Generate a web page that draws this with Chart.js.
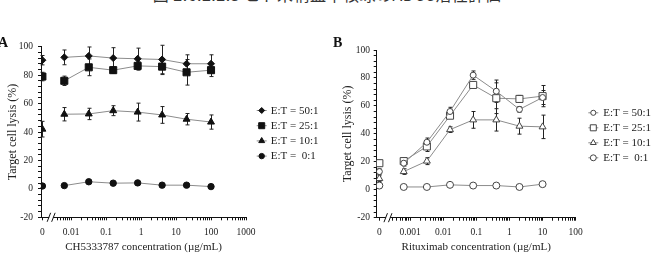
<!DOCTYPE html>
<html>
<head>
<meta charset="utf-8">
<script src="https://cdn.jsdelivr.net/npm/chart.js@4"></script>
<style>
  html, body { margin: 0; padding: 0; background: #fff; }
  #wrap { position: relative; width: 654px; height: 256px; overflow: hidden; }
  .box { position: absolute; top: 0; width: 327px; height: 256px; }
  #boxA { left: 0; }
  #boxB { left: 327px; }
  .tag { position: absolute; font: bold 14px "Liberation Serif", serif; color: #111; line-height: 14px; }
  #figTitle { position: absolute; left: 0; top: -14px; width: 654px; text-align: center; white-space: nowrap;
              font: 16px "Noto Sans CJK JP", sans-serif; letter-spacing: 0.5px; line-height: 16px; color: #333; }
</style>
</head>
<body>
<div id="wrap">
  <div id="figTitle">図 2.6.2.2.3 ヒト末梢血単核球のADCC活性評価</div>
  <div class="box" id="boxA"><canvas id="chartA" width="327" height="256"></canvas></div>
  <div class="box" id="boxB"><canvas id="chartB" width="327" height="256"></canvas></div>
  <div class="tag" style="left:-2px;top:36px">A</div>
  <div class="tag" style="left:333px;top:36px">B</div>
</div>
<script>
// --- Datos ---
const seriesLabels = ["E:T = 50:1", "E:T = 25:1", "E:T = 10:1", "E:T =  0:1"];
const yTicks = [-20, 0, 20, 40, 60, 80, 100];

// Panel A: CH5333787
const concA   = [0, 0.0064, 0.032, 0.16, 0.8, 4, 20, 100];
const lysisA50 = [90.5, 92.5, 93.5, 92, 91.5, 91, 88, 88];
const lysisA25 = [79, 76, 85.5, 83.5, 86.5, 86, 82, 83.5];
const lysisA10 = [42, 52.5, 52.7, 55, 54, 52, 49, 47];
const lysisA0  = [2, 2.3, 5, 4, 4.2, 2.6, 2.6, 1.6];
const errA50 = [3.3, 5.2, 6.3, 7.3, 7.5, 10, 6.3, 6.3];
const errA25 = [3, 3.3, 5.9, 2.3, 3, 5.6, 9, 4.5];
const errA10 = [5.5, 4.7, 4, 3.5, 6.3, 5.9, 4, 5];
const errA0  = [1, 1, 1, 1, 1, 1, 1, 1];
const xTickConcA   = [0, 0.01, 0.1, 1, 10, 100, 1000];
const xTickLabelsA = ["0", "0.01", "0.1", "1", "10", "100", "1000"];

// Panel B: Rituximab
const concB   = [0, 0.00064, 0.0032, 0.016, 0.08, 0.4, 2, 10];
const lysisB50 = [13, 19, 34, 56, 82, 70.5, 57.5, 66];
const lysisB25 = [19, 20.5, 31, 53, 75, 65.5, 65, 67];
const lysisB10 = [8, 13, 20.5, 43, 50, 50, 45.5, 45];
const lysisB0  = [3, 2, 2, 3.5, 3, 3, 2, 4];
const errB50 = [2, 2, 3, 3, 3, 8, 2, 5];
const errB25 = [2, 2, 3.6, 2, 2, 11, 2.5, 7.6];
const errB10 = [2, 2, 2.5, 2, 6, 8, 5.7, 8.4];
const errB0  = [0.5, 0.5, 0.5, 0.5, 0.5, 0.5, 0.5, 0.5];
const xTickConcB   = [0, 0.001, 0.01, 0.1, 1, 10, 100];
const xTickLabelsB = ["0", "0.001", "0.01", "0.1", "1", "10", "100"];

const serif = "'Liberation Serif', 'Times New Roman', serif";

// --- Utilidades ---
// concentración -> posición en el eje (log10, el 0 va a la izquierda del corte)
const toX = (c, zeroPos) => c === 0 ? zeroPos : Math.log10(c);

function toPoints(conc, vals, errs, zeroPos) {
  const pts = [];
  conc.forEach((c, i) => {
    pts.push({ x: toX(c, zeroPos), y: vals[i], e: errs[i] });
    if (c === 0) pts.push({ x: zeroPos, y: null, e: 0 });
  });
  return pts;
}

function buildXTicks(tickConc, labels, zeroPos, breakAt, max) {
  const ticks = tickConc.map((c, i) => ({ value: toX(c, zeroPos), label: labels[i] }));
  for (let d = Math.floor(breakAt); d < max; d++) {
    for (let k = 2; k <= 9; k++) {
      const v = Math.log10(k) + d;
      if (v > breakAt + 0.1 && v < max) ticks.push({ value: v, label: "" });
    }
  }
  return ticks.sort((a, b) => a.value - b.value);
}

function buildYTicks() {
  const t = [];
  for (let v = yTicks[0]; v <= yTicks[yTicks.length - 1]; v += 4) t.push(v);
  return t;
}

// --- Plugins ---
const errorBars = {
  id: "errorBars",
  beforeDatasetsDraw(chart) {
    const { ctx, scales: { x, y } } = chart;
    ctx.save();
    ctx.strokeStyle = "#222";
    ctx.lineWidth = 1;
    chart.data.datasets.forEach(ds => {
      ds.data.forEach(p => {
        if (p.y === null || !p.e) return;
        const px = Math.round(x.getPixelForValue(p.x)) + 0.5;
        const yt = y.getPixelForValue(p.y + p.e);
        const yb = y.getPixelForValue(p.y - p.e);
        ctx.beginPath();
        ctx.moveTo(px, yt); ctx.lineTo(px, yb);
        ctx.moveTo(px - 2, yt); ctx.lineTo(px + 2, yt);
        ctx.moveTo(px - 2, yb); ctx.lineTo(px + 2, yb);
        ctx.stroke();
      });
    });
    ctx.restore();
  }
};

const axisBreak = {
  id: "axisBreak",
  afterDraw(chart, args, opts) {
    const { ctx, chartArea } = chart;
    const x = chart.scales.x.getPixelForValue(opts.at);
    const y = chartArea.bottom;
    ctx.save();
    ctx.fillStyle = "#fff";
    ctx.fillRect(x - 2, y - 1.5, 4, 3);
    ctx.strokeStyle = "#111";
    ctx.lineWidth = 1;
    ctx.beginPath();
    ctx.moveTo(x - 4, y + 4.5); ctx.lineTo(x - 0.5, y - 4.5);
    ctx.moveTo(x + 0.5, y + 4.5); ctx.lineTo(x + 4, y - 4.5);
    ctx.stroke();
    ctx.restore();
  }
};

const sideLegend = {
  id: "sideLegend",
  afterDraw(chart, args, opts) {
    const ctx = chart.ctx;
    chart.data.datasets.forEach((ds, i) => {
      const y = opts.y + i * opts.gap;
      ctx.save();
      ctx.strokeStyle = ds.borderColor;
      ctx.lineWidth = 1;
      ctx.beginPath();
      ctx.moveTo(opts.x, y + 0.5); ctx.lineTo(opts.x + opts.len, y + 0.5);
      ctx.stroke();
      ctx.fillStyle = ds.pointBackgroundColor;
      ctx.strokeStyle = ds.pointBorderColor;
      ctx.lineWidth = ds.pointBorderWidth;
      Chart.helpers.drawPoint(ctx, {
        pointStyle: ds.pointStyle, radius: ds.pointRadius * 0.85, rotation: 0, borderWidth: ds.pointBorderWidth
      }, opts.x + opts.len / 2, y + 0.5);
      ctx.fillStyle = "#222";
      ctx.font = "11px " + serif;
      ctx.textBaseline = "middle";
      ctx.fillText(ds.label, opts.x + opts.len + opts.pad, y + 1);
      ctx.restore();
    });
  }
};

// --- Gráfico ---
function makeChart(id, cfg) {
  const xt = buildXTicks(cfg.tickConc, cfg.tickLabels, cfg.zeroPos, cfg.breakAt, cfg.xMax);
  const datasets = cfg.series.map((s, i) => ({
    label: seriesLabels[i],
    data: toPoints(cfg.conc, s.vals, s.errs, cfg.zeroPos),
    borderColor: cfg.lineColor,
    borderWidth: 1,
    pointStyle: s.style,
    pointRadius: s.r,
    pointBorderWidth: 1,
    pointBorderColor: cfg.markColor,
    pointBackgroundColor: cfg.fill,
    spanGaps: false,
    tension: 0
  }));

  return new Chart(document.getElementById(id), {
    type: "line",
    data: { datasets },
    plugins: [errorBars, axisBreak, sideLegend],
    options: {
      responsive: false,
      animation: false,
      layout: { padding: cfg.pad },
      plugins: {
        legend: { display: false },
        tooltip: { enabled: false },
        axisBreak: { at: cfg.breakAt },
        sideLegend: cfg.legend
      },
      scales: {
        x: {
          type: "linear",
          min: cfg.xMin,
          max: cfg.xMax,
          afterBuildTicks: sc => { sc.ticks = xt.map(t => ({ value: t.value })); },
          afterFit: sc => { sc.height = cfg.xHeight; },
          ticks: {
            autoSkip: false, maxRotation: 0, padding: 6, color: "#222",
            font: { family: serif, size: 9.5 },
            callback: v => { const t = xt.find(t => Math.abs(t.value - v) < 1e-9); return t ? t.label : ""; }
          },
          grid: { drawOnChartArea: false, tickLength: 3, color: "#111" },
          border: { color: "#111", width: 1 },
          title: {
            display: true, text: cfg.xTitle, color: "#222",
            font: { family: serif, size: 11 }, padding: { top: 0, bottom: 2.4 }
          }
        },
        y: {
          min: yTicks[0],
          max: yTicks[yTicks.length - 1],
          afterBuildTicks: sc => { sc.ticks = buildYTicks().map(v => ({ value: v })); },
          afterFit: sc => { sc.width = cfg.yWidth; },
          ticks: {
            autoSkip: false, padding: cfg.yPad, color: "#222",
            font: { family: serif, size: 9.5 },
            callback: v => yTicks.includes(v) ? String(v) : ""
          },
          grid: { drawOnChartArea: false, tickLength: 3, color: "#111" },
          border: { color: "#111", width: 1 },
          title: {
            display: true, text: "Target cell lysis (%)", color: "#222",
            font: { family: serif, size: 12 }, padding: { top: cfg.yTitlePad, bottom: 0 }
          }
        }
      }
    }
  });
}

// --- Init ---
makeChart("chartA", {
  conc: concA,
  series: [
    { vals: lysisA50, errs: errA50, style: "rectRot", r: 3.5 },
    { vals: lysisA25, errs: errA25, style: "rect", r: 5 },
    { vals: lysisA10, errs: errA10, style: "triangle", r: 4 },
    { vals: lysisA0,  errs: errA0,  style: "circle", r: 3.2 }
  ],
  tickConc: xTickConcA, tickLabels: xTickLabelsA,
  xMin: -2.86, xMax: 3, zeroPos: -2.82, breakAt: -2.57,
  lineColor: "#8c8c8c", markColor: "#111", fill: "#111",
  xTitle: "CH5333787 concentration (\u00b5g/mL)",
  pad: { left: 0, right: 81, top: 46.7, bottom: 0 },
  yWidth: 41, xHeight: 38.7, yPad: 5, yTitlePad: 5.3,
  legend: { x: 256.7, y: 110, gap: 15.2, len: 10, pad: 4 }
});

makeChart("chartB", {
  conc: concB,
  series: [
    { vals: lysisB50, errs: errB50, style: "circle", r: 3 },
    { vals: lysisB25, errs: errB25, style: "rect", r: 5 },
    { vals: lysisB10, errs: errB10, style: "triangle", r: 4 },
    { vals: lysisB0,  errs: errB0,  style: "circle", r: 3.5 }
  ],
  tickConc: xTickConcB, tickLabels: xTickLabelsB,
  xMin: -4.01, xMax: 2, zeroPos: -3.93, breakAt: -3.67,
  lineColor: "#8c8c8c", markColor: "#444", fill: "#fff",
  xTitle: "Rituximab concentration (\u00b5g/mL)",
  pad: { left: 0, right: 78.3, top: 50, bottom: 0 },
  yWidth: 49.7, xHeight: 38.3, yPad: 3.7, yTitlePad: 13.3,
  legend: { x: 261.3, y: 112.3, gap: 15, len: 10, pad: 5 }
});
</script>
</body>
</html>
